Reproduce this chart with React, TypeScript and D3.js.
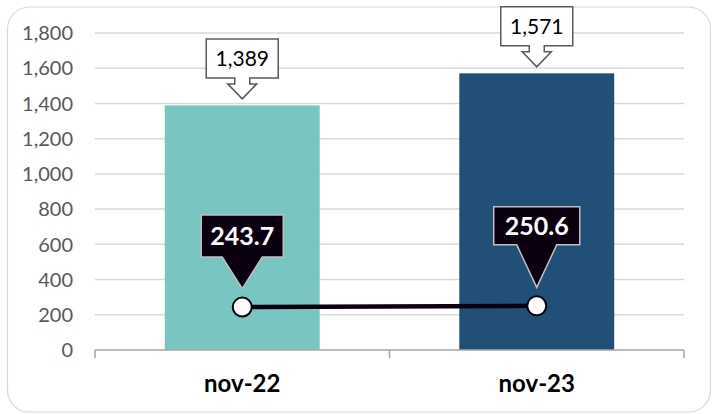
import React from "react";
import * as d3 from "d3";

const categories: string[] = ["nov-22", "nov-23"];
const barValues: number[] = [1389, 1571];
const lineValues: number[] = [243.7, 250.6];
const yTicks: number[] = [0, 200, 400, 600, 800, 1000, 1200, 1400, 1600, 1800];
const barColors: string[] = ["#79C5C1", "#224F78"];

// layout constants for the line callouts (box rise above point, box size)
const lineBoxRise = [50, 61];
const lineBoxW = [82, 86];
const lineBoxH = [42, 38];

const W = 713;
const H = 414;
const FONT = "Lato, 'Open Sans', sans-serif";

export default function App() {
  const x = d3
    .scaleBand<string>()
    .domain(categories)
    .range([95, 684])
    .paddingInner(0.474)
    .paddingOuter(0.237);
  const y = d3.scaleLinear().domain([0, 1800]).range([350, 33]);
  const fmt = d3.format(",");
  const cx = (c: string) => (x(c) as number) + x.bandwidth() / 2;

  const lineGen = d3
    .line<number>()
    .x((_, i) => cx(categories[i]))
    .y((d) => y(d));

  const step = x.step();
  const tickXs = [95, 95 + step, 684];

  return (
    <svg
      width={W}
      height={H}
      style={{ position: "absolute", left: 0, top: 0, background: "#fff" }}
      fontFamily={FONT}
    >
      <rect x={7.5} y={7} width={703} height={405} rx={22} ry={22} fill="#fff" stroke="#d9d9d9" strokeWidth={1.2} />

      {/* gridlines */}
      {yTicks.filter((t) => t > 0).map((t) => (
        <line key={t} x1={95} x2={684} y1={y(t)} y2={y(t)} stroke="#d9d9d9" strokeWidth={1.5} />
      ))}

      {/* y labels */}
      {yTicks.map((t) => (
        <text key={t} x={73} y={y(t)} dy="0.36em" textAnchor="end" fontSize={20} fill="#595959">
          {fmt(t)}
        </text>
      ))}

      {/* bars */}
      {categories.map((c, i) => (
        <rect
          key={c}
          x={x(c)}
          y={y(barValues[i])}
          width={x.bandwidth()}
          height={y(0) - y(barValues[i])}
          fill={barColors[i]}
        />
      ))}

      {/* x axis */}
      <line x1={95} x2={684} y1={350} y2={350} stroke="#a6a6a6" strokeWidth={1.5} />
      {tickXs.map((tx, i) => (
        <line key={i} x1={tx} x2={tx} y1={350} y2={358} stroke="#a6a6a6" strokeWidth={1.5} />
      ))}
      {categories.map((c) => (
        <text key={c} x={cx(c)} y={392} textAnchor="middle" fontSize={24} fontWeight={700} fill="#000">
          {c}
        </text>
      ))}

      {/* bar callouts */}
      {categories.map((c, i) => {
        const px = cx(c);
        const ty = y(barValues[i]) - 6.5;
        const d = `M${px - 36},${ty - 60} H${px + 36} V${ty - 21} H${px + 7.5} V${ty - 15} H${px + 14.5} L${px},${ty} L${px - 14.5},${ty - 15} H${px - 7.5} V${ty - 21} H${px - 36} Z`;
        return (
          <g key={c}>
            <path d={d} fill="#fff" stroke="#595959" strokeWidth={1.5} />
            <text x={px} y={ty - 33} textAnchor="middle" fontSize={21} fill="#000">
              {fmt(barValues[i])}
            </text>
          </g>
        );
      })}

      {/* line */}
      <path d={lineGen(lineValues) || ""} fill="none" stroke="#0b0010" strokeWidth={4.5} />

      {/* line callouts */}
      {categories.map((c, i) => {
        const px = cx(c);
        const py = y(lineValues[i]);
        const bb = py - lineBoxRise[i];
        const bt = bb - lineBoxH[i];
        const hw = lineBoxW[i] / 2;
        const tip = py - 18.5;
        const d = `M${px - hw},${bt} H${px + hw} V${bb} H${px + 20} L${px},${tip} L${px - 20},${bb} H${px - hw} Z`;
        return (
          <g key={c}>
            <path d={d} fill="#0b0010" stroke="#bfbfbf" strokeWidth={1.5} />
            <text x={px} y={bt + lineBoxH[i] / 2} dy="0.36em" textAnchor="middle" fontSize={25} fontWeight={700} fill="#fff">
              {lineValues[i].toFixed(1)}
            </text>
          </g>
        );
      })}

      {/* points */}
      {categories.map((c, i) => (
        <circle key={c} cx={cx(c)} cy={y(lineValues[i])} r={9.5} fill="#fff" stroke="#0b0010" strokeWidth={2} />
      ))}
    </svg>
  );
}
